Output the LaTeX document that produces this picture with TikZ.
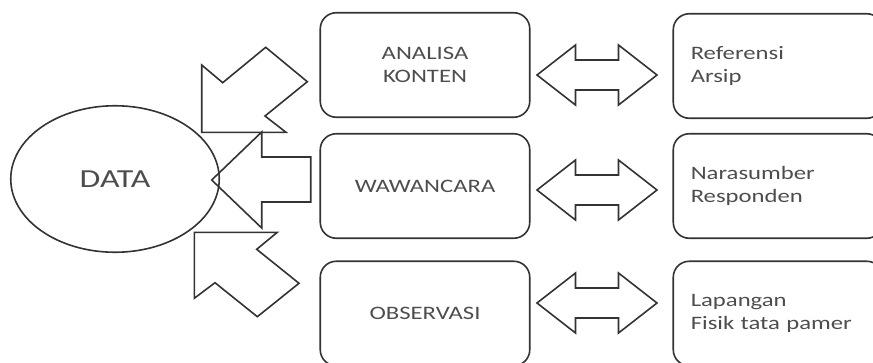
\documentclass[tikz,border=0pt]{standalone}
\usepackage{fontspec}
\setmainfont{Carlito}[FakeStretch=1.3]
\usetikzlibrary{shapes.geometric}

\definecolor{linegray}{HTML}{333333}
\definecolor{textgray}{HTML}{4D4D4D}

\tikzset{
  box/.style={draw=linegray, line width=1.6pt, rounded corners=16pt,
    minimum width=209.5pt, minimum height=104.5pt, text=textgray,
    font=\fontsize{19}{23.5}\selectfont, align=center},
  srcbox/.style={box, align=left, text width=174.5pt, inner xsep=17.5pt},
  blockarrow/.style={draw=linegray, line width=1.6pt, line join=miter}
}

\begin{document}
\begin{tikzpicture}[x=1pt, y=-1pt]
    \useasboundingbox (0,0) rectangle (873,362);
    \clip (0,0) rectangle (873,362);

    % Data
    \node[ellipse, draw=linegray, line width=1.6pt, minimum width=208.5pt,
      minimum height=146.5pt, text=textgray, font=\fontsize{26}{30}\selectfont]
      (data) at (115,179) {DATA};

    % Methods
    \node[box] (ak) at (425,65) {ANALISA\\KONTEN};
    \node[box] (ww) at (425,186) {WAWANCARA};
    \node[box] (ob) at (425,313.5) {OBSERVASI};

    % Sources
    \node[srcbox] (ref) at (778,66) {Referensi\\Arsip};
    \node[srcbox] (nara) at (778,186) {Narasumber\\Responden};
    \node[srcbox] (lap) at (778,313.5) {Lapangan\\Fisik tata pamer};

    % Block arrows into DATA
    \draw[blockarrow] (201.7,132.3) -- (201.7,65) -- (222.7,82.7) -- (265.7,47.3)
        -- (307.3,81.7) -- (265,116) -- (286,132.3) -- cycle;
    \draw[blockarrow] (211.7,180) -- (261.7,132) -- (261.7,157) -- (310.7,157)
        -- (310.7,202) -- (261.7,202) -- (261.7,228) -- cycle;
    \draw[blockarrow] (194.3,232.3) -- (277.3,232.3) -- (256.7,249.3) -- (299,283.3)
        -- (257.3,316.7) -- (215,282.7) -- (194.3,298.3) -- cycle;

    % Double arrows between methods and sources
    \foreach \y in {75,190,303}
        \draw[blockarrow] (537,\y) -- (575.5,\y-30) -- (575.5,\y-15) -- (618.5,\y-15)
            -- (618.5,\y-30) -- (657,\y) -- (618.5,\y+30) -- (618.5,\y+15)
            -- (575.5,\y+15) -- (575.5,\y+30) -- cycle;
\end{tikzpicture}
\end{document}
